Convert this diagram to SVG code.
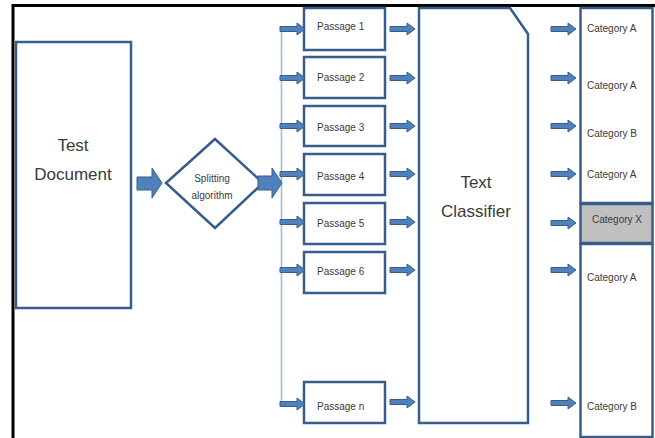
<svg xmlns="http://www.w3.org/2000/svg" width="655" height="438" viewBox="0 0 655 438">
<style>
.box{fill:#fff;stroke:#385d8a;stroke-width:2.5}
.arr{fill:#4f81bd;stroke:#385d8a;stroke-width:1}
.t{font-family:"Liberation Sans",Arial,sans-serif;fill:#3a3a3a}
.s{font-size:10px}
.b{font-size:17px;text-anchor:middle}
.c{font-size:10px;text-anchor:middle}
</style>
<defs>
<path id="sa" class="arr" d="M0,-2.5 H17 V-6 L25,0 L17,6 V2.5 H0 Z"/>
</defs>
<rect width="655" height="438" fill="#fff"/>
<path d="M13,438 V5.5 H655" fill="none" stroke="#000" stroke-width="3"/>

<g id="test-document">
<rect class="box" x="16" y="42" width="115" height="266"/>
<text class="t b" x="73" y="151">Test</text>
<text class="t b" x="73" y="180">Document</text>
</g>

<g id="splitting">
<polygon class="box" points="166,183 215,139 263,183 215,228"/>
<text class="t c" x="212" y="182">Splitting</text>
<text class="t c" x="212" y="199">algorithm</text>
</g>

<g id="passage1"><rect class="box" x="304" y="8" width="81" height="42"/><text class="t s" x="317" y="30">Passage 1</text></g>
<g id="passage2"><rect class="box" x="304" y="57" width="81" height="41"/><text class="t s" x="317" y="81">Passage 2</text></g>
<g id="passage3"><rect class="box" x="304" y="106" width="81" height="40"/><text class="t s" x="317" y="131">Passage 3</text></g>
<g id="passage4"><rect class="box" x="304" y="154" width="81" height="41"/><text class="t s" x="317" y="180">Passage 4</text></g>
<g id="passage5"><rect class="box" x="304" y="203" width="81" height="41"/><text class="t s" x="317" y="227">Passage 5</text></g>
<g id="passage6"><rect class="box" x="304" y="252" width="81" height="41"/><text class="t s" x="317" y="275">Passage 6</text></g>
<g id="passagen"><rect class="box" x="304" y="382" width="81" height="41"/><text class="t s" x="317" y="410">Passage n</text></g>

<g id="text-classifier">
<polygon class="box" points="419,8 510,8 528,34 528,423 419,423"/>
<text class="t b" x="476" y="188">Text</text>
<text class="t b" x="476" y="217">Classifier</text>
</g>

<g id="categories">
<rect class="box" x="580.5" y="8" width="72" height="195"/>
<rect x="580.5" y="204" width="72" height="39" fill="#c0c0c0" stroke="#385d8a" stroke-width="2.5"/>
<rect class="box" x="580.5" y="244" width="72" height="193"/>
<text class="t s" x="587" y="32">Category A</text>
<text class="t s" x="587" y="89">Category A</text>
<text class="t s" x="587" y="137">Category B</text>
<text class="t s" x="587" y="178">Category A</text>
<text class="t c" x="617" y="223">Category X</text>
<text class="t s" x="587" y="281">Category A</text>
<text class="t s" x="587" y="410">Category B</text>
</g>

<g id="connectors">
<line x1="281.5" y1="27" x2="281.5" y2="405" stroke="#9fb9dc" stroke-width="1.5"/>
<polygon class="arr" points="137,177 152,177 152,168 162,183 152,198 152,190 137,190"/>
<polygon class="arr" points="258,176 272,176 272,168 282,183 272,198 272,190 258,190"/>
<use href="#sa" x="280" y="29"/>
<use href="#sa" x="280" y="78"/>
<use href="#sa" x="280" y="126"/>
<use href="#sa" x="280" y="174"/>
<use href="#sa" x="280" y="222"/>
<use href="#sa" x="280" y="270"/>
<use href="#sa" x="280" y="404"/>
<use href="#sa" x="390" y="29"/>
<use href="#sa" x="390" y="78"/>
<use href="#sa" x="390" y="126"/>
<use href="#sa" x="390" y="174"/>
<use href="#sa" x="390" y="222"/>
<use href="#sa" x="390" y="270"/>
<use href="#sa" x="390" y="402"/>
<use href="#sa" x="551" y="29"/>
<use href="#sa" x="551" y="78"/>
<use href="#sa" x="551" y="126"/>
<use href="#sa" x="551" y="174"/>
<use href="#sa" x="551" y="223"/>
<use href="#sa" x="551" y="270"/>
<use href="#sa" x="551" y="403"/>
</g>
</svg>
